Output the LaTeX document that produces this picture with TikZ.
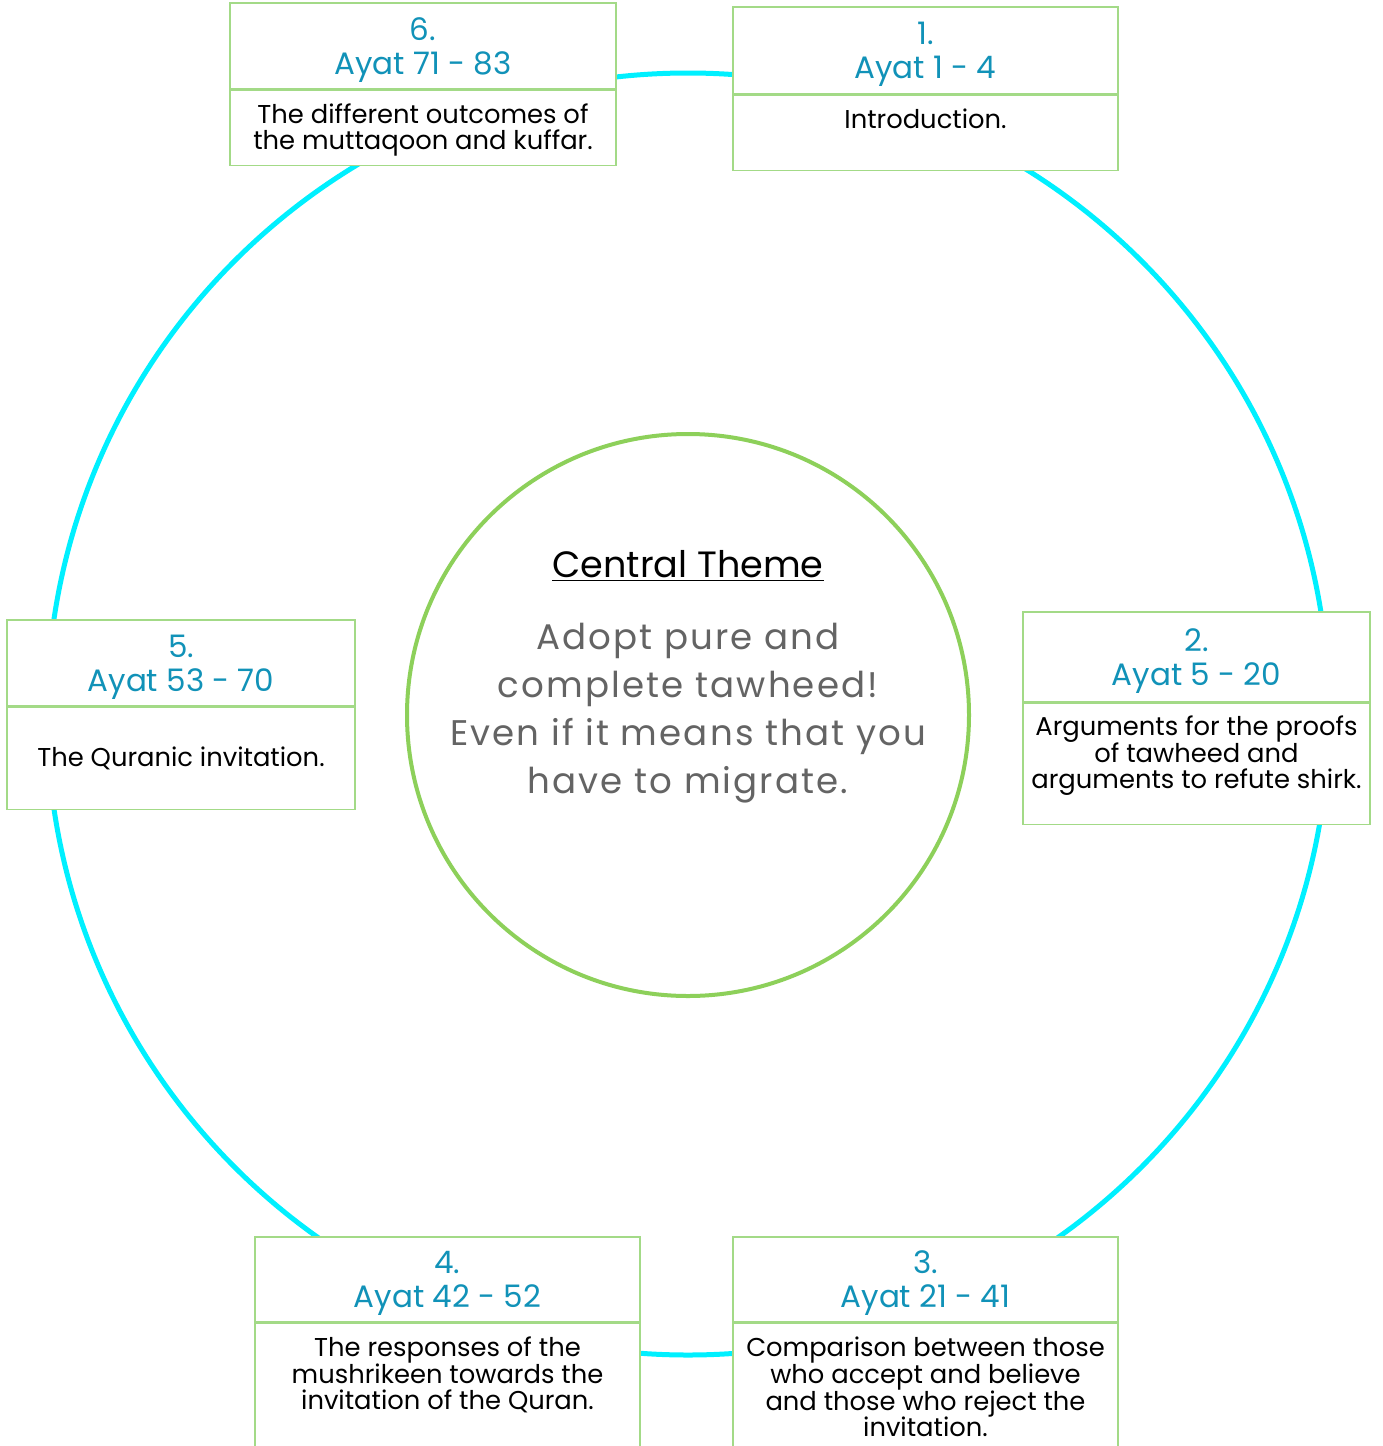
\documentclass[tikz,border=0pt]{standalone}
\usepackage{fontspec}
\setmainfont{Poppins}
\newfontfamily\spacedfont[LetterSpace=6]{Poppins}
\lineskiplimit=-100pt
\definecolor{ringcyan}{HTML}{00F0FF}
\definecolor{themegreen}{HTML}{8DD05A}
\definecolor{boxgreen}{HTML}{A3DA87}
\definecolor{ayatblue}{HTML}{1192B8}
\definecolor{msggray}{HTML}{646464}
\tikzset{
  headbox/.style={draw=boxgreen, line width=0.7pt, fill=white, inner sep=0pt, text depth=0pt,
    align=center, text=ayatblue, font=\fontsize{15.5}{17}\selectfont},
  bodybox/.style={draw=boxgreen, line width=0.7pt, fill=white, inner sep=0pt, anchor=north},
  bodytext/.style={align=center, inner sep=0pt, font=\fontsize{12.9}{13.3}\selectfont}
}
\begin{document}
\begin{tikzpicture}[x=0.5pt,y=-0.5pt]
\useasboundingbox (0,0) rectangle (1382,1446);
\fill[white] (0,0) rectangle (1382,1446);

\coordinate (C) at (688,714);
\draw [ringcyan, line width=2.5pt] (C) circle (320.5pt);

% centre
\node[circle, draw=themegreen, line width=2pt, minimum size=281pt, inner sep=0pt] (theme) at (688,715) {};
\node[inner sep=0pt, font=\fontsize{18.3}{22}\selectfont] (title) at (688,566) {\underline{Central Theme}};
\node[inner sep=0pt, align=center, text=msggray, font=\fontsize{17.8}{24}\spacedfont] (msg) at (688,713)
  {Adopt pure and\\complete tawheed!\\Even if it means that you\\have to migrate.};

% 1
\node[headbox, minimum width=192.5pt, minimum height=43.5pt] (h1) at (925.5,50.5) {1.\\Ayat 1 - 4};
\node[bodybox, minimum width=192.5pt, minimum height=37.5pt] (b1) at (h1.south) {};
\node[bodytext] (t1) at (925.5,119) {Introduction.};

% 2
\node[headbox, minimum width=173.5pt, minimum height=45pt] (h2) at (1196.5,657) {2.\\Ayat 5 - 20};
\node[bodybox, minimum width=173.5pt, minimum height=60.5pt] (b2) at (h2.south) {};
\node[bodytext] (t2) at (1196.5,756) {Arguments for the proofs\\of tawheed and\\arguments to refute shirk.};

% 3
\node[headbox, minimum width=192.5pt, minimum height=42.5pt] (h3) at (925.5,1279.5) {3.\\Ayat 21 - 41};
\node[bodybox, minimum width=192.5pt, minimum height=75pt] (b3) at (h3.south) {};
\node[bodytext] (t3) at (925.5,1387) {Comparison between those\\who accept and believe\\and those who reject the\\invitation.};

% 4
\node[headbox, minimum width=192.5pt, minimum height=42.5pt] (h4) at (447.5,1279.5) {4.\\Ayat 42 - 52};
\node[bodybox, minimum width=192.5pt, minimum height=75pt] (b4) at (h4.south) {};
\node[bodytext] (t4) at (447.5,1375) {The responses of the\\mushrikeen towards the\\invitation of the Quran.};

% 5
\node[headbox, minimum width=174pt, minimum height=43pt] (h5) at (181,663) {5.\\Ayat 53 - 70};
\node[bodybox, minimum width=174pt, minimum height=51pt] (b5) at (h5.south) {};
\node[bodytext] (t5) at (181,758) {The Quranic invitation.};

% 6
\node[headbox, minimum width=193pt, minimum height=43pt] (h6) at (423,46) {6.\\Ayat 71 - 83};
\node[bodybox, minimum width=193pt, minimum height=37.5pt] (b6) at (h6.south) {};
\node[bodytext] (t6) at (423,130) {The different outcomes of\\the muttaqoon and kuffar.};

\end{tikzpicture}
\end{document}
